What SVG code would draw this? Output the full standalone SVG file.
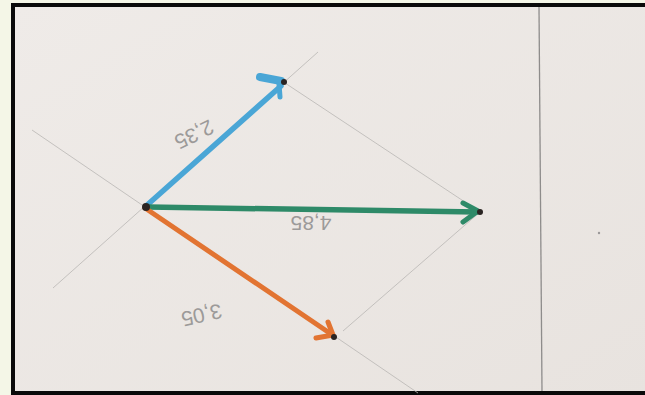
<svg xmlns="http://www.w3.org/2000/svg" width="645" height="395" viewBox="0 0 645 395">
<defs>
<linearGradient id="paper" x1="0" y1="0" x2="1" y2="1">
<stop offset="0" stop-color="#efebe8"/>
<stop offset="1" stop-color="#e8e3df"/>
</linearGradient>
<style>
.guide{stroke:#b9b6b4;stroke-width:0.8;fill:none}
.pen{fill:none;stroke-linecap:round;stroke-linejoin:round}
.blue{stroke:#4aa6d6}
.green{stroke:#2e8a68}
.orange{stroke:#e27432}
.dot{fill:#2a2422}
.lbl{font-family:"Liberation Sans",sans-serif;font-size:21px;fill:#9c9a99;text-anchor:middle}
</style>
</defs>
<rect x="0" y="0" width="645" height="395" fill="#f4f6e7"/>
<rect x="13" y="5" width="645" height="388" fill="url(#paper)" stroke="#0a0a0a" stroke-width="4"/>
<g id="guides">
<line class="guide" x1="32" y1="130" x2="418" y2="393"/>
<line class="guide" x1="53" y1="288" x2="318" y2="52"/>
<line class="guide" x1="285" y1="83" x2="480" y2="212"/>
<line class="guide" x1="480" y1="212" x2="343" y2="331"/>
<line stroke="#8e8c8b" stroke-width="1.3" x1="539" y1="7" x2="542" y2="391"/>
<circle cx="599" cy="233" r="1.2" fill="#9a9898"/>
</g>
<g id="connectors">
<g id="vec-blue">
<path class="pen blue" stroke-width="5.5" d="M146,206 L281,86"/>
<path class="pen blue" stroke-width="8" d="M260,77 L281,81"/>
<path class="pen blue" stroke-width="5" d="M279,84 L280,97"/>
</g>
<g id="vec-green">
<path class="pen green" stroke-width="5.5" d="M148,207 L477,212"/>
<path class="pen green" stroke-width="5" d="M463,203 L478,211 L463,222"/>
</g>
<g id="vec-orange">
<path class="pen orange" stroke-width="5" d="M145,208 L331,334"/>
<path class="pen orange" stroke-width="5" d="M328,322 L333,335 L316,338"/>
</g>
</g>
<g id="dots">
<circle class="dot" cx="146" cy="207" r="4"/>
<circle class="dot" cx="284" cy="82" r="3"/>
<circle class="dot" cx="480" cy="212" r="3"/>
<circle class="dot" cx="334" cy="337" r="3"/>
</g>
<g id="labels">
<text class="lbl" transform="translate(191,128) rotate(154)">2,35</text>
<text class="lbl" transform="translate(311,216) rotate(180)">4,85</text>
<text class="lbl" transform="translate(200,308) rotate(167)">3,05</text>
</g>
</svg>
